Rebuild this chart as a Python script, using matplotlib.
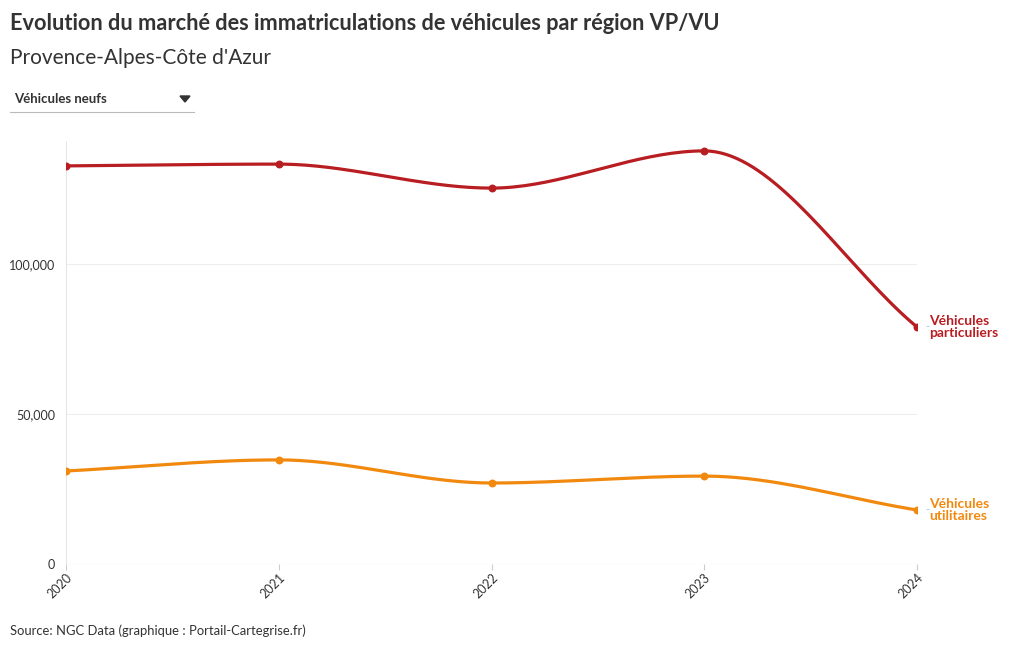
import numpy as np
import matplotlib
matplotlib.use("Agg")
import matplotlib.pyplot as plt
from matplotlib.ticker import FuncFormatter
from matplotlib.patches import Polygon

plt.rcParams['font.family'] = ['Lato', 'DejaVu Sans']

# data
years = [2020, 2021, 2022, 2023, 2024]
vp = [132700, 133300, 125300, 137700, 79000]   # Véhicules particuliers
vu = [31000, 34700, 27000, 29300, 18000]       # Véhicules utilitaires

RED = "#b81d22"
ORANGE = "#f2890f"


def monotone_curve(x, y, n=40):
    # monotone cubic (Fritsch-Carlson), like d3.curveMonotoneX
    x = np.asarray(x, float)
    y = np.asarray(y, float)
    h = np.diff(x)
    d = np.diff(y) / h
    m = np.zeros_like(y)
    m[0], m[-1] = d[0], d[-1]
    for i in range(1, len(y) - 1):
        if d[i - 1] * d[i] <= 0:
            m[i] = 0
        else:
            w1 = 2 * h[i] + h[i - 1]
            w2 = h[i] + 2 * h[i - 1]
            m[i] = (w1 + w2) / (w1 / d[i - 1] + w2 / d[i])
    xs, ys = [], []
    for i in range(len(x) - 1):
        t = np.linspace(0, 1, n)
        h00 = 2 * t**3 - 3 * t**2 + 1
        h10 = t**3 - 2 * t**2 + t
        h01 = -2 * t**3 + 3 * t**2
        h11 = t**3 - t**2
        xs.append(x[i] + t * h[i])
        ys.append(h00 * y[i] + h10 * h[i] * m[i] + h01 * y[i + 1] + h11 * h[i] * m[i + 1])
    return np.concatenate(xs), np.concatenate(ys)


fig = plt.figure(figsize=(10.2, 6.5), dpi=100)
ax = fig.add_axes([66 / 1020, 1 - 564 / 650, (917 - 66) / 1020, 423 / 650])

for vals, col in [(vp, RED), (vu, ORANGE)]:
    cx, cy = monotone_curve(years, vals)
    ax.plot(cx, cy, color=col, lw=2.3, solid_capstyle='round', zorder=3)
    ax.scatter(years, vals, color=col, s=22, zorder=4)

ax.set_xlim(2020, 2024)
ax.set_ylim(0, 141000)
ax.set_yticks([0, 50000, 100000])
ax.yaxis.set_major_formatter(FuncFormatter(lambda v, p: f"{int(v):,}"))
ax.set_xticks(years)
ax.set_xticklabels([str(y) for y in years], rotation=45, ha='right', va='top',
                   rotation_mode='anchor')
ax.grid(axis='y', color='#eeeeee', lw=0.8)
for s in ['top', 'right', 'bottom']:
    ax.spines[s].set_visible(False)
ax.spines['left'].set_color('#e6e6e6')
ax.axhline(0, color='#e6e6e6', lw=0.8, zorder=1)
ax.tick_params(axis='y', length=0, labelsize=9, labelcolor='#333333', pad=8)
ax.tick_params(axis='x', length=4, color='#cccccc', labelsize=9, labelcolor='#333333', pad=1)

# end labels
for vals, col, lab in [(vp, RED, "Véhicules\nparticuliers"), (vu, ORANGE, "Véhicules\nutilitaires")]:
    ax.annotate("-", xy=(years[-1], vals[-1]), xytext=(6, 0), textcoords='offset points',
                color='#9fc3dd', fontsize=8, va='center', ha='left', annotation_clip=False)
    ax.annotate(lab, xy=(years[-1], vals[-1]), xytext=(9, 0), textcoords='offset points',
                color=col, fontsize=10, fontweight='bold', va='center', ha='left',
                linespacing=1.0, annotation_clip=False)

# header
fig.text(10 / 1020, 1 - 24 / 650, "Evolution du marché des immatriculations de véhicules par région VP/VU",
         fontsize=15.7, fontweight='bold', color='#333333', va='center')
fig.text(10 / 1020, 1 - 58 / 650, "Provence-Alpes-Côte d'Azur",
         fontsize=15, color='#333333', va='center')

# dropdown
fig.text(14 / 1020, 1 - 99 / 650, "Véhicules neufs", fontsize=9.5, fontweight='bold',
         color='#333333', va='center')
tri = Polygon([[180 / 1020, 1 - 96 / 650], [190 / 1020, 1 - 96 / 650], [185 / 1020, 1 - 102 / 650]],
              closed=True, color='#333333', transform=fig.transFigure)
fig.add_artist(tri)
fig.add_artist(plt.Line2D([10 / 1020, 194 / 1020], [1 - 112 / 650, 1 - 112 / 650],
                          color='#bbbbbb', lw=0.8))

fig.text(10 / 1020, 1 - 631 / 650, "Source: NGC Data (graphique : Portail-Cartegrise.fr)",
         fontsize=9.4, color='#333333', va='center')

fig.savefig("out.png", dpi=100, facecolor='white')
